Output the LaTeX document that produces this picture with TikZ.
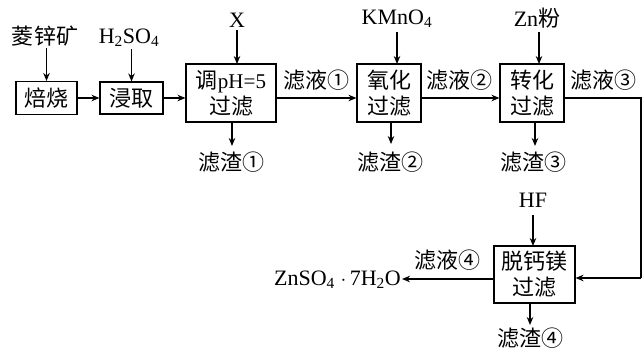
\documentclass[tikz,border=0pt]{standalone}
\usepackage{fontspec}
\setmainfont{Liberation Serif}
\newfontfamily\cjk{Noto Sans CJK SC}
\usetikzlibrary{arrows.meta}
\begin{document}
\begin{tikzpicture}[x=1pt,y=-1pt,
  every node/.style={inner sep=1pt,font=\fontsize{22}{26}\selectfont},
  cn/.style={font=\fontsize{22}{26}\selectfont\cjk},
  box/.style={draw,line width=1.1pt,align=center,inner sep=0pt,font=\fontsize{22}{26}\selectfont\cjk},
  arr/.style={line width=1.3pt,-{Stealth[length=8pt,width=6.5pt]}},
  ln/.style={line width=1.3pt}]
\useasboundingbox (0,0) rectangle (644,356);
% boxes
\node[box,minimum width=61pt,minimum height=33pt] (b1) at (46.5,98) {焙烧};
\node[box,minimum width=63pt,minimum height=32pt] (b2) at (131.5,98) {浸取};
\node[box,minimum width=90pt,minimum height=58pt] (b3) at (231,93) {调{\rmfamily\fontsize{21}{26}\selectfont pH=5}\\过滤};
\node[box,minimum width=64pt,minimum height=58pt] (b4) at (389,93) {氧化\\过滤};
\node[box,minimum width=64pt,minimum height=58pt] (b5) at (532,93) {转化\\过滤};
\node[box,minimum width=81pt,minimum height=57pt] (b6) at (534.5,274.5) {脱钙镁\\过滤};
% inputs
\node[cn] (i1) at (45,36) {菱锌矿};
\node (i2) at (129,38) {H\textsubscript{2}SO\textsubscript{4}};
\node (i3) at (237,20) {X};
\node (i4) at (397,19) {KMnO\textsubscript{4}};
\node (i5) at (537,18) {Zn{\cjk 粉}};
\node (i6) at (533,200) {HF};
% residues
\node[cn] (r1) at (231,162) {滤渣①};
\node[cn] (r2) at (390,162) {滤渣②};
\node[cn] (r3) at (533,162) {滤渣③};
\node[cn] (r4) at (530,338) {滤渣④};
% filtrate labels
\node[cn] (f1) at (316,80) {滤液①};
\node[cn] (f2) at (459,80) {滤液②};
\node[cn] (f3) at (603,80) {滤液③};
\node[cn] (f4) at (447,260) {滤液④};
\node[anchor=east] (p) at (402,280) {ZnSO\textsubscript{4}$\;\cdot\,$7H\textsubscript{2}O};
\coordinate (c1) at (641,98);
\coordinate (c2) at (641,278);
% arrows
\draw[arr] (b1.north |- 0,48) -- (b1.north);
\draw[arr] (b2.north |- 0,49) -- (b2.north);
\draw[arr] (237,30) -- (237,64);
\draw[arr] (397,32) -- (397,64);
\draw[arr] (539,32) -- (539,64);
\draw[arr] (533,215) -- (533,246);
\draw[arr] (b1.east) -- (b2.west);
\draw[arr] (b2.east) -- (b2 -| b3.west);
\draw[arr] (b3.east |- b2) -- (b4.west |- b2);
\draw[arr] (b4.east |- b2) -- (b5.west |- b2);
\draw[ln] (b5.east |- b2) -- (c1) -- (c2);
\draw[arr] (c2) -- (b6.east |- c2);
\draw[arr] (b6.west |- 0,279) -- (p.east |- 0,279);
\draw[arr] (232,122) -- (232,146);
\draw[arr] (391,122) -- (391,144);
\draw[arr] (535,122) -- (535,146);
\draw[arr] (530,303) -- (530,325);
\end{tikzpicture}
\end{document}
